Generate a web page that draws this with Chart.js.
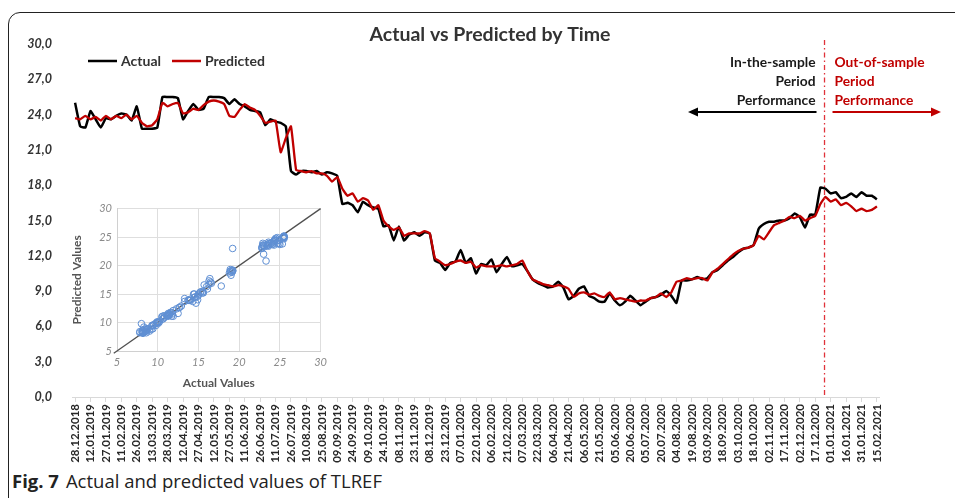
<!DOCTYPE html>
<html>
<head>
<meta charset="utf-8">
<script src="https://cdn.jsdelivr.net/npm/chart.js@4.4.1/dist/chart.umd.min.js"></script>
<style>
  html, body { margin: 0; padding: 0; background: #fff; }
  body { width: 955px; height: 498px; position: relative; overflow: hidden; }
  #frame { position: absolute; left: 8px; top: 12px; width: 1000px; height: 520px;
           border: 1.5px solid #222; border-radius: 12px 0 0 0; box-sizing: border-box; }
  #mainBox { position: absolute; left: 0; top: 0; width: 955px; height: 467px; }
  #insetBox { position: absolute; left: 70px; top: 197px; width: 262px; height: 195px; }
  #caption { position: absolute; left: 12px; top: 469px; font: 18.5px "Open Sans", sans-serif;
             color: #222; line-height: 24px; white-space: nowrap; }
  #caption b { font-weight: 700; margin-right: 7px; }
</style>
</head>
<body>
<div id="frame"></div>
<div id="mainBox"><canvas id="mainChart"></canvas></div>
<div id="insetBox"><canvas id="insetChart"></canvas></div>
<div id="caption"><b>Fig. 7</b>Actual and predicted values of TLREF</div>

<script>
// one reading every 5 days, starting 28.12.2018
const sampleStep = 5;
const splitDay = 729; // start of the out-of-sample period

const actual = [
  25.0, 23.0, 22.9, 24.3, 23.6, 22.9, 23.7, 23.6, 23.9, 24.1,
  24.0, 23.5, 24.7, 22.8, 22.8, 22.8, 22.9, 25.5, 25.5, 25.5,
  25.4, 23.6, 24.3, 24.9, 24.4, 24.5, 25.5, 25.5, 25.5, 25.4,
  24.9, 25.3, 24.9, 24.7, 24.4, 24.3, 24.2, 23.1, 23.6, 23.4,
  23.3, 23.0, 19.2, 18.9, 19.2, 19.2, 19.1, 19.2, 18.9, 19.1,
  19.0, 18.8, 16.4, 16.5, 16.3, 15.7, 16.6, 16.3, 16.1, 16.0,
  14.5, 14.6, 13.3, 14.5, 13.3, 13.8, 14.0, 13.7, 14.0, 13.9,
  11.6, 11.4, 10.8, 11.4, 11.5, 12.5, 11.4, 11.8, 10.5, 11.3,
  11.2, 11.7, 10.6, 11.3, 11.9, 11.1, 11.2, 11.3, 10.7, 10.0,
  9.7, 9.5, 9.3, 9.4, 9.8, 9.3, 8.3, 8.6, 9.2, 9.4,
  8.6, 8.4, 8.1, 8.1, 8.8, 8.2, 7.8, 8.1, 8.6, 8.2,
  7.8, 8.1, 8.4, 8.5, 8.7, 9.0, 8.6, 8.0, 9.9, 9.9,
  10.0, 10.2, 10.0, 10.1, 10.6, 10.8, 11.2, 11.6, 11.9, 12.3,
  12.6, 12.7, 12.9, 14.3, 14.7, 14.9, 14.9, 15.0, 15.0, 15.2,
  15.6, 15.3, 14.4, 15.5, 15.5, 17.8, 17.7, 17.3, 17.4, 16.9,
  17.0, 17.3, 17.0, 17.4, 17.1, 17.1, 16.8
];

const predicted = [
  23.7, 23.6, 23.9, 23.6, 23.8, 23.5, 23.9, 23.6, 23.9, 23.7,
  24.0, 23.6, 23.9, 23.3, 23.0, 23.1, 23.6, 25.0, 24.7, 24.9,
  25.0, 24.1, 24.2, 24.5, 24.4, 24.8, 25.1, 25.2, 25.1, 24.9,
  23.9, 23.8, 24.4, 24.9, 24.6, 24.4, 23.9, 23.3, 23.4, 23.5,
  20.8, 22.0, 23.0, 19.3, 19.2, 19.1, 19.2, 19.0, 19.0, 18.8,
  18.3, 18.7, 17.7, 17.1, 17.3, 16.6, 16.9, 16.7, 15.9, 16.3,
  15.0, 14.5, 14.2, 14.4, 13.7, 13.9, 13.9, 13.9, 14.1, 13.9,
  11.8, 11.5, 11.2, 11.3, 11.5, 11.6, 11.4, 11.5, 11.0, 11.2,
  11.1, 11.1, 11.1, 11.2, 11.1, 11.2, 11.3, 11.6, 10.7, 10.0,
  9.8, 9.6, 9.5, 9.4, 9.5, 9.4, 9.2, 8.5, 8.8, 8.9,
  8.7, 8.8, 8.6, 8.5, 8.9, 8.3, 8.4, 8.3, 8.2, 8.1,
  8.2, 8.2, 8.4, 8.5, 8.8, 8.5, 8.9, 9.8, 9.9, 10.1,
  10.0, 10.1, 10.1, 9.9, 10.6, 10.9, 11.3, 11.7, 12.1, 12.4,
  12.6, 12.7, 12.9, 13.7, 13.4, 14.0, 14.6, 14.8, 15.0, 15.3,
  15.2, 15.4, 15.0, 15.2, 15.4, 16.4, 17.0, 16.6, 16.8, 16.3,
  16.5, 16.2, 15.8, 16.0, 15.8, 15.9, 16.2
];

// x tick labels, one every 15 days
const tickStep = 15;
const tickLabels = [
  '28.12.2018', '12.01.2019', '27.01.2019', '11.02.2019', '26.02.2019', '13.03.2019',
  '28.03.2019', '12.04.2019', '27.04.2019', '12.05.2019', '27.05.2019', '11.06.2019',
  '26.06.2019', '11.07.2019', '26.07.2019', '10.08.2019', '25.08.2019', '09.09.2019',
  '24.09.2019', '09.10.2019', '24.10.2019', '08.11.2019', '23.11.2019', '08.12.2019',
  '23.12.2019', '07.01.2020', '22.01.2020', '06.02.2020', '21.02.2020', '07.03.2020',
  '22.03.2020', '06.04.2020', '21.04.2020', '06.05.2020', '21.05.2020', '05.06.2020',
  '20.06.2020', '05.07.2020', '20.07.2020', '04.08.2020', '19.08.2020', '03.09.2020',
  '18.09.2020', '03.10.2020', '18.10.2020', '02.11.2020', '17.11.2020', '02.12.2020',
  '17.12.2020', '01.01.2021', '16.01.2021', '31.01.2021', '15.02.2021'
];

const chartTitle = 'Actual vs Predicted by Time';
const inSampleText = ['In-the-sample', 'Period', 'Performance'];
const outSampleText = ['Out-of-sample', 'Period', 'Performance'];

const insetTicks = [5, 10, 15, 20, 25, 30];
const diagLine = [4.6, 30];

const black = '#000000';
const red = '#c00000';

function toPoints(values) {
  return values.map((v, i) => ({ x: i * sampleStep, y: v }));
}

function arrow(ctx, x0, y, x1, color) {
  const dir = x1 > x0 ? 1 : -1;
  ctx.strokeStyle = color;
  ctx.fillStyle = color;
  ctx.lineWidth = 1.8;
  ctx.beginPath();
  ctx.moveTo(x0, y);
  ctx.lineTo(x1 - dir * 8, y);
  ctx.stroke();
  ctx.beginPath();
  ctx.moveTo(x1, y);
  ctx.lineTo(x1 - dir * 10, y - 4.5);
  ctx.lineTo(x1 - dir * 10, y + 4.5);
  ctx.closePath();
  ctx.fill();
}

const overlay = {
  id: 'overlay',
  afterDraw(chart) {
    const { ctx, chartArea: a, scales: { x } } = chart;
    ctx.save();

    ctx.font = 'bold 19.5px Lato';
    ctx.fillStyle = '#333';
    ctx.textAlign = 'center';
    ctx.textBaseline = 'middle';
    ctx.fillText(chartTitle, 490, 35);

    // legend
    ctx.font = 'bold 14px Lato';
    ctx.textAlign = 'left';
    let lx = a.left + 16;
    const ly = a.top + 17;
    [0, 1].forEach(i => {
      const ds = chart.data.datasets[i];
      ctx.strokeStyle = ds.borderColor;
      ctx.lineWidth = 2.5;
      ctx.beginPath();
      ctx.moveTo(lx, ly);
      ctx.lineTo(lx + 29, ly);
      ctx.stroke();
      ctx.fillStyle = '#333';
      ctx.fillText(ds.label, lx + 33, ly);
      lx += 33 + ctx.measureText(ds.label).width + 11;
    });

    // split between in-sample and out-of-sample
    const sx = x.getPixelForValue(splitDay);
    ctx.strokeStyle = '#e0323a';
    ctx.lineWidth = 1.3;
    ctx.setLineDash([5, 3, 1.5, 3]);
    ctx.beginPath();
    ctx.moveTo(sx, a.top - 4);
    ctx.lineTo(sx, a.bottom);
    ctx.stroke();
    ctx.setLineDash([]);

    ctx.font = 'bold 13.8px Lato';
    ctx.textAlign = 'right';
    ctx.fillStyle = '#1a1a1a';
    inSampleText.forEach((t, i) => ctx.fillText(t, sx - 9, 63 + i * 19));
    ctx.textAlign = 'left';
    ctx.fillStyle = red;
    outSampleText.forEach((t, i) => ctx.fillText(t, sx + 10, 63 + i * 19));

    arrow(ctx, sx - 8, 112, 688, '#000');
    arrow(ctx, sx + 8, 112, 941, red);
    ctx.restore();
  }
};

new Chart(document.getElementById('mainChart'), {
  type: 'line',
  data: {
    datasets: [
      { label: 'Actual', data: toPoints(actual), borderColor: black, borderWidth: 2.5, order: 2 },
      { label: 'Predicted', data: toPoints(predicted), borderColor: red, borderWidth: 2.3, order: 1 }
    ]
  },
  options: {
    responsive: true,
    maintainAspectRatio: false,
    animation: false,
    layout: { padding: { top: 44, right: 76, left: 0, bottom: 0 } },
    elements: { point: { radius: 0 }, line: { tension: 0.12 } },
    plugins: { legend: { display: false }, title: { display: false }, tooltip: { enabled: false } },
    scales: {
      x: {
        type: 'linear',
        min: -3,
        max: 782,
        afterBuildTicks: s => { s.ticks = tickLabels.map((_, i) => ({ value: i * tickStep })); },
        afterFit: s => { s.height = 70; },
        grid: { drawOnChartArea: false, color: '#d9d9d9', tickLength: 5 },
        border: { color: '#d9d9d9' },
        ticks: {
          autoSkip: false,
          minRotation: 90,
          maxRotation: 90,
          padding: 2,
          color: '#262626',
          font: { family: 'Lato', size: 11.5, weight: 'bold' },
          callback: v => tickLabels[Math.round(v / tickStep)]
        }
      },
      y: {
        min: 0,
        max: 30,
        afterFit: s => { s.width = 72; },
        grid: { display: false },
        border: { display: false },
        ticks: {
          stepSize: 3,
          padding: 12,
          color: '#333',
          font: { family: 'Lato', size: 12.5, style: 'italic', weight: 'bold' },
          callback: v => v.toFixed(1).replace('.', ',')
        }
      }
    }
  },
  plugins: [overlay]
});

// inset: actual vs predicted for the in-sample period
const scatterPoints = actual
  .map((v, i) => ({ x: v, y: predicted[i], day: i * sampleStep }))
  .filter(p => p.day < splitDay);

const insetTickFont = { family: 'Lato', size: 11, style: 'italic' };

new Chart(document.getElementById('insetChart'), {
  type: 'scatter',
  data: {
    datasets: [
      {
        data: scatterPoints,
        pointRadius: 3.3,
        pointBorderWidth: 1,
        pointBorderColor: '#5f8fd3',
        pointBackgroundColor: 'rgba(0,0,0,0)'
      },
      {
        type: 'line',
        data: diagLine.map(v => ({ x: v, y: v })),
        borderColor: '#505050',
        borderWidth: 1.3,
        pointRadius: 0,
        clip: false
      }
    ]
  },
  options: {
    responsive: true,
    maintainAspectRatio: false,
    animation: false,
    layout: { padding: { top: 10, right: 10, left: 0, bottom: 0 } },
    plugins: { legend: { display: false }, tooltip: { enabled: false } },
    scales: {
      x: {
        min: 5,
        max: 30,
        afterBuildTicks: s => { s.ticks = insetTicks.map(v => ({ value: v })); },
        afterFit: s => { s.height = 41; },
        grid: { color: '#dedede', drawTicks: false },
        border: { color: '#d0d0d0' },
        ticks: { padding: 5, color: '#8a8a8a', font: insetTickFont },
        title: {
          display: true, text: 'Actual Values', padding: { top: 2, bottom: 2 },
          color: '#555', font: { family: 'Lato', size: 12, weight: 'bold' }
        }
      },
      y: {
        min: 5,
        max: 30,
        afterBuildTicks: s => { s.ticks = insetTicks.map(v => ({ value: v })); },
        afterFit: s => { s.width = 47; },
        grid: { color: '#dedede', drawTicks: false },
        border: { color: '#d0d0d0' },
        ticks: { padding: 5, color: '#8a8a8a', font: insetTickFont },
        title: {
          display: true, text: 'Predicted Values', padding: { top: 0, bottom: 2 },
          color: '#555', font: { family: 'Lato', size: 12, weight: 'bold' }
        }
      }
    }
  }
});
</script>
</body>
</html>
